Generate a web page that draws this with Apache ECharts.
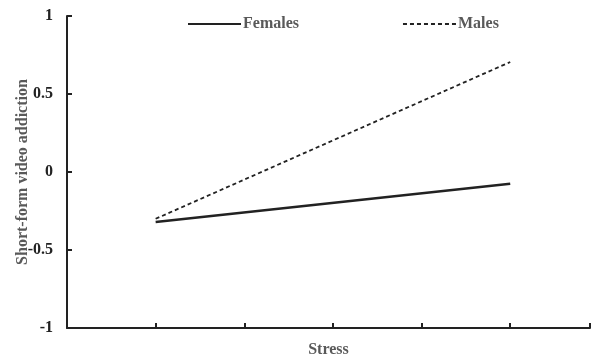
<!DOCTYPE html>
<html>
<head>
<meta charset="utf-8">
<script src="https://cdn.jsdelivr.net/npm/echarts@6/dist/echarts.min.js"></script>
<style>html,body{margin:0;padding:0;background:#fff}#c{width:592px;height:360px}</style>
</head>
<body>
<div id="c"></div>
<script>
var stressX = [1, 5];
var females = [-0.32, -0.075];
var males = [-0.30, 0.705];
var seriesNames = ['Females', 'Males'];
var yTicks = [-1, -0.5, 0, 0.5, 1];

var chart = echarts.init(document.getElementById('c'), null, {renderer: 'canvas'});
var font = '"Liberation Serif", "Times New Roman", serif';
chart.setOption({
  animation: false,
  backgroundColor: '#fff',
  grid: {left: 67, right: 2, top: 16, bottom: 32, containLabel: false, outerBoundsMode: 'none'},
  legend: {
    data: seriesNames,
    left: 182, top: 11,
    itemWidth: 53, itemHeight: 12, itemGap: 103,
    itemStyle: {opacity: 0},
    textStyle: {fontFamily: font, fontWeight: 'bold', fontSize: 16, color: '#595959', padding: [0,0,0,-3]}
  },
  xAxis: {
    type: 'value', min: 0, max: 5.9, interval: 1,
    name: 'Stress', nameLocation: 'middle', nameGap: 14, nameMoveOverlap: false,
    nameTextStyle: {fontFamily: font, fontWeight: 'bold', fontSize: 16, color: '#595959'},
    axisLine: {show: true, onZero: false, lineStyle: {color: '#222', width: 2}},
    axisTick: {show: true, inside: true, length: 5, lineStyle: {color: '#222', width: 2}},
    axisLabel: {show: false},
    splitLine: {show: false}
  },
  yAxis: {
    type: 'value', min: -1, max: 1, interval: 0.5,
    name: 'Short-form video addiction', nameLocation: 'middle', nameGap: 36, nameRotate: 90,
    nameMoveOverlap: false,
    nameTextStyle: {fontFamily: font, fontWeight: 'bold', fontSize: 16, color: '#595959'},
    axisLine: {show: true, onZero: false, lineStyle: {color: '#222', width: 2}},
    axisTick: {show: true, inside: true, length: 5, lineStyle: {color: '#222', width: 2}},
    axisLabel: {fontFamily: font, fontWeight: 'bold', fontSize: 16, color: '#222', margin: 14,
      formatter: function(v){ return yTicks.indexOf(v) >= 0 ? String(v) : ''; }},
    splitLine: {show: false}
  },
  series: [
    {name: seriesNames[0], type: 'line', symbol: 'none',
     data: stressX.map(function(x,i){return [x, females[i]];}),
     lineStyle: {color: '#222', width: 2.5, type: 'solid'}, itemStyle: {color: '#222'}},
    {name: seriesNames[1], type: 'line', symbol: 'none',
     data: stressX.map(function(x,i){return [x, males[i]];}),
     lineStyle: {color: '#222', width: 1.8, type: [4, 3]}, itemStyle: {color: '#222'}}
  ]
});
</script>
</body>
</html>
